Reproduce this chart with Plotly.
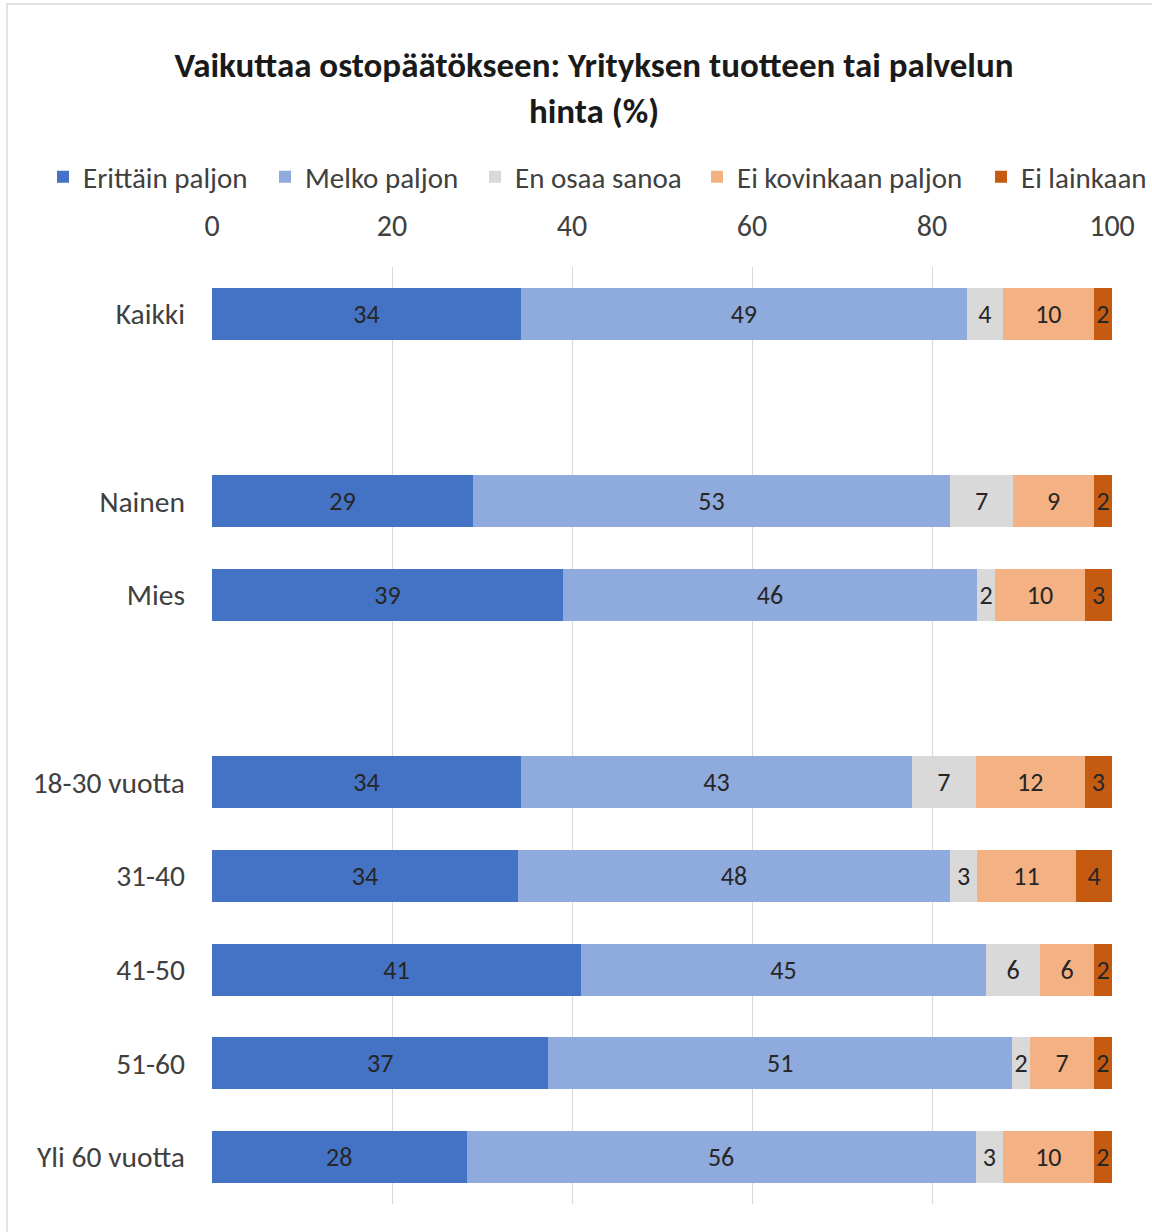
import plotly.graph_objects as go

# Survey groups, top to bottom; blank entries separate the group blocks
groups = ["Kaikki", " ", "Nainen", "Mies", "  ",
          "18-30 vuotta", "31-40", "41-50", "51-60", "Yli 60 vuotta"]

series_names = ["Erittäin paljon", "Melko paljon", "En osaa sanoa",
                "Ei kovinkaan paljon", "Ei lainkaan"]
series_colors = ["#4472C4", "#8FAADC", "#D9D9D9", "#F4B183", "#C55A11"]

erittain_paljon = [34, None, 29, 39, None, 34, 34, 41, 37, 28]
melko_paljon    = [49, None, 53, 46, None, 43, 48, 45, 51, 56]
en_osaa_sanoa   = [4,  None, 7,  2,  None, 7,  3,  6,  2,  3]
ei_kovinkaan    = [10, None, 9,  10, None, 12, 11, 6,  7,  10]
ei_lainkaan     = [2,  None, 2,  3,  None, 3,  4,  2,  2,  2]

series_values = [erittain_paljon, melko_paljon, en_osaa_sanoa,
                 ei_kovinkaan, ei_lainkaan]

x_ticks = [0, 20, 40, 60, 80, 100]

FONT = "Carlito, Lato, sans-serif"
GREY_TEXT = "#404040"

# plot area in pixels (left edge, width, bottom edge, height)
PLOT_L, PLOT_W, PLOT_B, PLOT_H = 212, 900, 1204, 937

# left edges of the legend entries along the top row
legend_left_px = [43, 265, 475, 697, 981]
legend_ids = ["legend", "legend2", "legend3", "legend4", "legend5"]

fig = go.Figure()
for name, color, vals, lid in zip(series_names, series_colors, series_values, legend_ids):
    fig.add_trace(go.Bar(
        name=name,
        y=groups,
        x=vals,
        orientation="h",
        legend=lid,
        showlegend=True,
        marker=dict(color=color, line=dict(width=0)),
        text=[("" if v is None else str(v)) for v in vals],
        texttemplate="%{text}",
        textposition="inside",
        insidetextanchor="middle",
        textangle=0,
        insidetextfont=dict(family=FONT, size=26, color="#262626"),
        hoverinfo="skip",
    ))

legend_layout = {}
for lid, left in zip(legend_ids, legend_left_px):
    legend_layout[lid] = dict(
        orientation="h",
        x=(left - PLOT_L) / PLOT_W,
        xanchor="left",
        y=(PLOT_B - 177) / PLOT_H,
        yanchor="middle",
        font=dict(family=FONT, size=29, color=GREY_TEXT),
        itemclick=False,
        itemwidth=30,
        bgcolor="rgba(0,0,0,0)",
    )

fig.update_layout(
    showlegend=True,
    barmode="stack",
    barnorm="percent",
    bargap=0.445,
    width=1152,
    height=1232,
    margin=dict(l=PLOT_L, r=1152 - PLOT_L - PLOT_W, t=PLOT_B - PLOT_H,
                b=1232 - PLOT_B, autoexpand=False),
    paper_bgcolor="white",
    plot_bgcolor="white",
    font=dict(family=FONT, size=26, color=GREY_TEXT),
    uniformtext=dict(minsize=26, mode="show"),
    title=dict(
        text="Vaikuttaa ostopäätökseen: Yrityksen tuotteen tai palvelun<br>hinta (%)",
        x=594 / 1152,
        xanchor="center",
        xref="container",
        y=1 - 77 / 1232,
        yanchor="top",
        font=dict(family=FONT, size=35, color="#1a1a1a", weight="bold"),
    ),
    xaxis=dict(
        side="top",
        range=[0, 100],
        tickvals=x_ticks,
        ticktext=[str(t) for t in x_ticks],
        showgrid=True,
        gridcolor="#D9D9D9",
        gridwidth=1,
        zeroline=False,
        showline=False,
        ticks="",
        ticklabelstandoff=24,
        tickfont=dict(family=FONT, size=30, color=GREY_TEXT),
    ),
    yaxis=dict(
        categoryorder="array",
        categoryarray=groups,
        autorange="reversed",
        showgrid=False,
        zeroline=False,
        showline=False,
        ticks="",
        ticklabelstandoff=26,
        tickfont=dict(family=FONT, size=29.5, color=GREY_TEXT),
    ),
    shapes=[dict(
        type="rect",
        xref="paper", yref="paper",
        x0=(7 - PLOT_L) / PLOT_W, x1=(1160 - PLOT_L) / PLOT_W,
        y0=(PLOT_B - 1240) / PLOT_H, y1=(PLOT_B - 4) / PLOT_H,
        line=dict(color="#D9D9D9", width=1.5),
        fillcolor="rgba(0,0,0,0)",
        layer="below",
    )],
    **legend_layout,
)

fig.write_html("out.html")
